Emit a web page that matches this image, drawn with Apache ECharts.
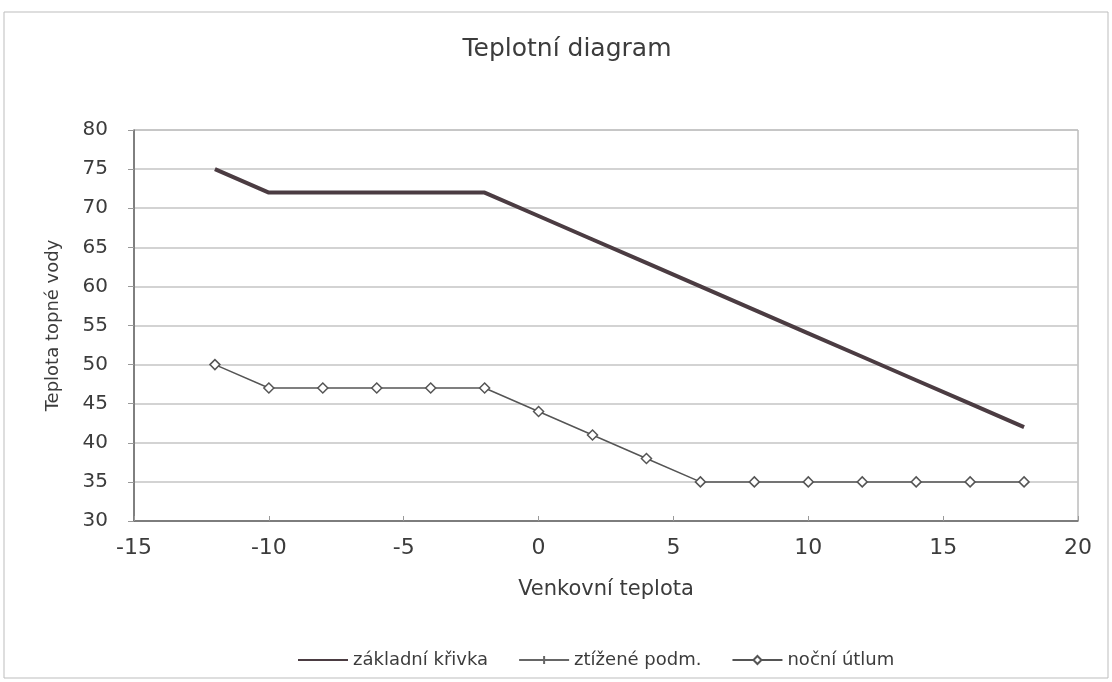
<!DOCTYPE html>
<html>
<head>
<meta charset="utf-8">
<title>Teplotní diagram</title>
<script src="https://cdn.jsdelivr.net/npm/echarts@6/dist/echarts.min.js"></script>
<style>
    html, body { margin: 0; padding: 0; background: #fff; }
    #chart { width: 1112px; height: 682px; }
</style>
</head>
<body>
<div id="chart"></div>
<script>
// venkovní teplota (osa x)
var outdoorTemps = [-12, -10, -8, -6, -4, -2, 0, 2, 4, 6, 8, 10, 12, 14, 16, 18];
// základní křivka
var baseCurve = [75, 72, 72, 72, 72, 72, 69, 66, 63, 60, 57, 54, 51, 48, 45, 42];
// ztížené podm. - v grafu není vidět
var hardConditions = [];
// noční útlum
var nightSetback = [50, 47, 47, 47, 47, 47, 44, 41, 38, 35, 35, 35, 35, 35, 35, 35];

var seriesNames = ['základní křivka', 'ztížené podm.', 'noční útlum'];

(function (window) {
    var font = '"DejaVu Sans", Arial, sans-serif';
    var textColor = '#3c3c3c';

    function pairs(values) {
        return values.map(function (v, i) {
            return [outdoorTemps[i], v];
        });
    }

    function drawChart(dom) {
        var chart = echarts.init(dom, null, { renderer: 'canvas' });
        chart.setOption({
            backgroundColor: '#fff',
            animation: false,
            textStyle: { fontFamily: font, color: textColor },
            title: {
                text: 'Teplotní diagram',
                left: 562,
                top: 32,
                textAlign: 'center',
                textStyle: { fontFamily: font, fontSize: 25, fontWeight: 'normal', color: textColor }
            },
            graphic: [{
                type: 'rect',
                shape: { x: 4, y: 12, width: 1104, height: 666 },
                style: { fill: 'none', stroke: '#bdbdbd', lineWidth: 1 },
                silent: true
            }],
            legend: {
                left: 292,
                top: 646,
                itemGap: 30,
                itemWidth: 50,
                itemHeight: 10,
                textStyle: { fontFamily: font, fontSize: 18, color: textColor },
                data: [
                    // základní křivka nemá značku, jen čáru
                    { name: seriesNames[0], itemStyle: { opacity: 0 } },
                    seriesNames[1],
                    seriesNames[2]
                ]
            },
            grid: {
                left: 134,
                right: 34,
                top: 130,
                bottom: 161,
                show: true,
                borderColor: '#9a9a9a',
                borderWidth: 1
            },
            xAxis: {
                type: 'value',
                min: -15,
                max: 20,
                interval: 5,
                name: 'Venkovní teplota',
                nameLocation: 'middle',
                nameGap: 58,
                nameTextStyle: { fontFamily: font, fontSize: 21, color: textColor },
                axisLine: { show: true, onZero: false, lineStyle: { color: '#666', width: 1.5 } },
                axisTick: { show: true, inside: true, length: 5, lineStyle: { color: '#999' } },
                axisLabel: { fontFamily: font, fontSize: 22, color: textColor, margin: 16 },
                splitLine: { show: false }
            },
            yAxis: {
                type: 'value',
                min: 30,
                max: 80,
                interval: 5,
                name: 'Teplota topné vody',
                nameLocation: 'middle',
                nameGap: 72,
                nameTextStyle: { fontFamily: font, fontSize: 18, color: textColor },
                axisLine: { show: true, onZero: false, lineStyle: { color: '#666', width: 1.5 } },
                axisTick: { show: true, length: 6, lineStyle: { color: '#999' } },
                axisLabel: { fontFamily: font, fontSize: 20, color: textColor, margin: 26 },
                splitLine: { show: true, lineStyle: { color: '#c4c4c4', width: 1.5 } }
            },
            series: [{
                name: seriesNames[0],
                type: 'line',
                data: pairs(baseCurve),
                symbol: 'none',
                lineStyle: { color: '#4b3c42', width: 4 },
                itemStyle: { color: '#4b3c42' }
            }, {
                name: seriesNames[1],
                type: 'line',
                data: pairs(hardConditions),
                symbol: 'path://M5,0 L5,10 M0,5 L10,5',
                symbolSize: [2, 10],
                lineStyle: { color: '#666', width: 1 },
                itemStyle: { color: '#666', borderColor: '#666', borderWidth: 1 }
            }, {
                name: seriesNames[2],
                type: 'line',
                data: pairs(nightSetback),
                symbol: 'diamond',
                symbolSize: 10,
                showAllSymbol: true,
                lineStyle: { color: '#555', width: 1.5 },
                itemStyle: { color: '#fff', borderColor: '#555', borderWidth: 1.5 }
            }]
        });
        return chart;
    }

    drawChart(document.getElementById('chart'));
})(window);
</script>
</body>
</html>
